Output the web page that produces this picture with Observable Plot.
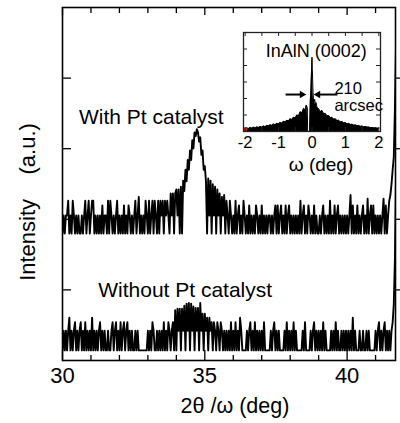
<!DOCTYPE html>
<html><head><meta charset="utf-8">
<script src="https://cdn.jsdelivr.net/npm/d3@7"></script>
<script src="https://cdn.jsdelivr.net/npm/@observablehq/plot@0.6"></script>
<style>
body{margin:0;background:#fff;}
#chart{position:relative;width:400px;height:423px;overflow:hidden;}
#chart svg{position:absolute;}
</style></head><body><div id="chart"></div>
<script>
// ---- main 2θ/ω scan (counts), scan grid 30° + 0.04° steps ----
const scanStart = 30, scanStep = 0.04;
const withPt = [
1,1.8,1,1.8,1.8,2.9,1,1.8,1,2.9,1.8,1,1.8,1,1.8,1,1,1.8,1,1.8,2.9,1,1.8,2.9,1,
1.8,2.9,2.9,1,1.8,1,1.8,1,1.8,1,2.5,1,1.8,1.8,1,2.9,1,2.9,1.8,1,1.8,1,1.8,2.9,1,
1.8,1,1.8,1,2.5,1,1.8,1,2.5,1.8,1,1.8,1,1.8,2.9,1,1.8,3.3,1,1.8,1,1.8,1,2.9,1.8,
1,2.9,1,1.8,2.9,1,2.9,1.8,1,2.9,1,2.9,1.8,2.9,1,2.9,1.8,2.9,1.8,1,3.7,1.8,3.7,1,3.7,
4.2,1.8,4.2,1,4.6,1,5.6,4,8,5.5,11,8,15,11,21,16,27,24,30,27,20,23,13,15,8,
9,5.5,1,6,1.8,5.6,1,5,1.8,4.6,1,4.2,1.8,3.7,1,3.3,1.8,3.5,1,2.9,1.8,1,2.9,1.8,1,
1.8,1,2.9,1,1.8,2.5,1,1.8,1,2.9,1.8,1,1.8,1,2.5,1,1.8,1,1.8,1,2.5,1.8,1,1.8,1,
2.5,1,1.8,1,1.8,1,1.8,1.8,1,1.8,1,1.8,2.5,1,2.5,1,1.8,2.5,1,1.8,1,2.5,1,1.8,2.5,
1,1.8,1,1.8,1,1.8,1,1.8,1,2.9,1,1.8,2.5,1,1.8,1,2.5,1.8,1,1.8,1,2.5,1,1.8,1,
1,1.8,1,1.8,2.5,1,1.8,1,1.8,1,2.9,1,1.8,1,2.5,1,1.8,2.5,1,1.8,1,1.8,1,1.8,1,
1.8,1,1.8,3.5,1,2.5,1,1.8,1,2.5,1,1.8,1,1.8,2.5,1,1.8,1,3.1,1,1.8,2.5,1,2.5,1,
1.8,1,1.8,1,1.8,1,1.8,3.1,1,2.5,1,1.8,2.9,3.5,5,8,12,60,500,3000
];
const withoutPt = [
1,1.9,1,1.9,1,1.9,2.9,1,1.9,1,1.9,2.5,1,1.9,1,1.9,2.5,1,1.9,1,2.5,1,1.9,1,1.9,
1,2.9,1,1.9,1,1.9,1,1.9,2.5,1,1.9,1,1.9,1,1,1.9,1,1,1.9,2.5,1,1.9,2.5,1,1.9,
1,2.5,1,1.9,2.5,1,1.9,2.5,1,1.9,1,1.9,1,1,1.9,1,1.9,1,1,1,1,1,1,1,1,
1.9,1,1.9,1,2.5,1.9,1,1,1.9,1,1.9,1,1.9,1,2.5,1,1.9,1,2.5,1.9,1,1.9,2.5,1,3.7,
1,3.9,1.9,3.9,1,3.9,1.9,4.3,1,4.6,1.9,4.7,1,4.6,1.9,4.2,1,4,1.9,4,1,4.7,1.9,3.3,1,
3.3,1.9,2.9,1,2.9,1.9,2.5,1,2.5,1.9,1,2.5,1.9,1,2.5,1.9,1,1.9,1,1.9,1,1.9,1,2.5,1,
1.9,1,2.5,1,1.9,1,2.9,1.9,1,1,1,1,1.9,1,1.9,2.5,1,1.9,1,2.5,1,1.9,1,1.9,1,
1.9,1,2.5,1,1,1,1,1,1.9,1,1.9,2.5,1,1.9,1,1.9,1,1,1,1,1.9,1,2.5,1,1.9,
1,1.9,1,2.5,1,1.9,1,1,1,1,1,1.9,1,2.5,1,1,1,1,1.9,1,1.9,2.5,1,1.9,1,
1.9,1,1.9,1,2.5,1,1.9,1,1,1,1,1.9,1,1.9,1,2.5,1,1.9,1,1,1.9,1,1.9,1,1.9,
1,1.9,1,1.9,1,2.9,1,1.9,1,1,1,1.9,1,1,1.9,1,1,1.9,1,1.9,1,1,1,1,1,
1.9,1,1.9,2.5,1,1.9,1,1.9,2.5,1,1.9,1,1.9,1,1.9,2.5,4.5,20,300,3000
];
const offsetWith = 63, offsetWithout = 1.39;   // vertical stacking factors (log axis)
const xMajorTicks = [30, 35, 40];
const xMajorLabels = ["30", "35", "40"];
const xMinorTicks = [31, 32, 33, 34, 36, 37, 38, 39, 41];
const yTicks = [10, 100, 1000, 10000];
const curveLabels = ["With Pt catalyst", "Without Pt catalyst"];
const curveLabelX = [33.12, 34.31];
const curveLabelY = [2830, 10];
const xTitle = "2θ /ω (deg)";
const yTitle = "Intensity\u00a0\u00a0\u00a0\u00a0(a.u.)";

// ---- inset: ω rocking curve ----
const insetOmega = [-2,-1.95,-1.9,-1.85,-1.8,-1.75,-1.7,-1.65,-1.6,-1.55,-1.5,-1.45,-1.4,-1.35,-1.3,-1.25,-1.2,-1.15,-1.1,-1.05,-1,-0.95,-0.9,-0.85,-0.8,-0.75,-0.7,-0.65,-0.6,-0.55,-0.5,-0.45,-0.4,-0.35,-0.3,-0.25,-0.2,
 -0.17,-0.14,-0.13,-0.07,-0.05,-0.03,-0.01,0,0.01,0.03,0.05,0.08,0.1,0.12,0.15,
 0.2,0.25,0.3,0.35,0.4,0.45,0.5,0.55,0.6,0.65,0.7,0.75,0.8,0.85,0.9,0.95,1,1.05,1.1,1.15,1.2,1.25,1.3,1.35,1.4,1.45,1.5,1.55,1.6,1.65,1.7,1.75,1.8,1.85,1.9,1.95,2];
const insetIntensity = [0.12,0.22,0.17,0.24,0.2,0.26,0.21,0.28,0.24,0.3,0.26,0.33,0.29,0.37,0.33,0.41,0.37,0.45,0.41,0.5,0.45,0.55,0.5,0.62,0.57,0.68,0.63,0.77,0.72,0.86,0.82,1.0,0.95,1.2,1.12,1.4,1.3,
 1.6,1.45,0,0,1.9,2.6,4.0,4.5,3.8,2.4,1.8,1.95,1.6,1.75,1.45,
 1.38,1.2,1.28,1.08,1.1,0.94,0.97,0.84,0.86,0.74,0.77,0.66,0.68,0.58,0.6,0.52,0.54,0.46,0.49,0.42,0.44,0.38,0.4,0.35,0.36,0.31,0.33,0.28,0.3,0.26,0.27,0.23,0.25,0.21,0.23,0.2,0.2];
const insetXTicks = [-2, -1, 0, 1, 2];
const insetXLabels = ["-2", "-1", "0", "1", "2"];
const insetXMinor = [-2, -1.5, -1, -0.5, 0, 0.5, 1, 1.5, 2];
const insetYTicks = [1, 2, 3, 4, 5];
const insetTitle = "InAlN (0002)";
const insetTitlePos = [0.13, 4.85];
const fwhmText = ["210", "arcsec"];
const fwhmTextX = [0.67, 0.67];
const fwhmTextY = [2.62, 1.59];
const arrowX1 = [-0.79, 0.76], arrowX2 = [-0.30, 0.18], arrowY = 2.24, arrowRotate = [90, -90];
const insetXTitle = "ω (deg)";

const font = "'Liberation Sans', Arial, Helvetica, sans-serif";
const chart = document.getElementById("chart");

const twoTheta = withPt.map((_, i) => +(scanStart + i * scanStep).toFixed(2));
const withData = withPt.map((c, i) => ({x: twoTheta[i], y: c * offsetWith}));
const withoutData = withoutPt.map((c, i) => ({x: twoTheta[i], y: c * offsetWithout}));

const W = 400, H = 423, mL = 62, mR = 5, mT = 7, mB = 63;
const fw = W - mL - mR, fh = H - mT - mB;
const majorFmt = new Map(xMajorTicks.map((v, i) => [v, xMajorLabels[i]]));

const main = Plot.plot({
  width: W, height: H, marginLeft: mL, marginRight: mR, marginTop: mT, marginBottom: mB,
  style: {fontFamily: font, background: "transparent", color: "black", overflow: "visible"},
  x: {domain: [30, 41.7], label: null},
  y: {type: "log", domain: [1, 1e5], axis: null},
  marks: [
    Plot.lineY(withData, {x: "x", y: "y", stroke: "black", strokeWidth: 1.9, clip: true}),
    Plot.lineY(withoutData, {x: "x", y: "y", stroke: "black", strokeWidth: 1.9, clip: true}),
    Plot.frame({stroke: "black", strokeWidth: 1.6}),
    Plot.tickX(xMajorTicks, {insetTop: fh - 10, stroke: "black", strokeWidth: 1.3}),
    Plot.tickX(xMinorTicks, {insetTop: fh - 5, stroke: "black", strokeWidth: 1.3}),
    Plot.tickX(xMajorTicks, {insetBottom: fh - 8, stroke: "black", strokeWidth: 1.3}),
    Plot.tickX(xMinorTicks, {insetBottom: fh - 6, stroke: "black", strokeWidth: 1.3}),
    Plot.tickY(yTicks, {insetRight: fw - 9, stroke: "black", strokeWidth: 1.3}),
    Plot.tickY(yTicks, {insetLeft: fw - 5, dx: 5, stroke: "black", strokeWidth: 1.3}),
    Plot.axisX({ticks: xMajorTicks, tickSize: 0, tickPadding: 7, fontSize: 22, label: null, tickFormat: d => majorFmt.get(d)}),
    Plot.text(curveLabels, {x: (d, i) => curveLabelX[i], y: (d, i) => curveLabelY[i], text: d => d, fontSize: 21, lineAnchor: "middle"}),
    Plot.text([xTitle], {frameAnchor: "bottom", dx: 6, dy: 46, fontSize: 21.5, lineAnchor: "middle"}),
    Plot.text([yTitle], {frameAnchor: "left", rotate: -90, dx: -35, dy: 18, fontSize: 22, textAnchor: "middle", lineAnchor: "middle"})
  ]
});
main.style.left = "0px"; main.style.top = "0px";
chart.appendChild(main);

// inset
const insetData = insetOmega.map((w, i) => ({w, v: insetIntensity[i]}));
const iW = 160, iH = 160, iL = 15, iR = 8, iT = 12, iB = 49;
const ifw = iW - iL - iR, ifh = iH - iT - iB;
const insetFmt = new Map(insetXTicks.map((v, i) => [v, insetXLabels[i]]));
const inset = Plot.plot({
  width: iW, height: iH, marginLeft: iL, marginRight: iR, marginTop: iT, marginBottom: iB,
  style: {fontFamily: font, background: "transparent", color: "black", overflow: "visible"},
  x: {domain: [-2.05, 2.05], label: null},
  y: {domain: [0, 6], axis: null},
  marks: [
    Plot.frame({fill: "white", stroke: "none"}),
    Plot.areaY(insetData, {x: "w", y: "v", fill: "black"}),
    Plot.lineY(insetData, {x: "w", y: "v", stroke: "black", strokeWidth: 1}),
    Plot.dot([insetData[0]], {x: "w", y: "v", r: 2.2, fill: "#e01010", stroke: "none"}),
    Plot.frame({stroke: "#222", strokeWidth: 1.3}),
    Plot.tickX(insetXMinor, {insetTop: ifh - 4, stroke: "#222"}),
    Plot.tickX(insetXMinor, {insetBottom: ifh - 4, stroke: "#222"}),
    Plot.tickY(insetYTicks, {insetRight: ifw - 4, stroke: "#222"}),
    Plot.tickY(insetYTicks, {insetLeft: ifw - 4, stroke: "#222"}),
    Plot.axisX({ticks: insetXTicks, tickSize: 0, tickPadding: 5, fontSize: 16.5, label: null, tickFormat: d => insetFmt.get(d)}),
    Plot.text([insetTitle], {x: insetTitlePos[0], y: insetTitlePos[1], fontSize: 18, lineAnchor: "middle"}),
    Plot.text(fwhmText, {x: (d, i) => fwhmTextX[i], y: (d, i) => fwhmTextY[i], text: d => d, fontSize: 16.5, textAnchor: "start", lineAnchor: "middle"}),
    Plot.link(arrowX1, {x1: d => d, x2: (d, i) => arrowX2[i], y1: arrowY, y2: arrowY, stroke: "black", strokeWidth: 2}),
    Plot.dot(arrowX2, {x: d => d, y: arrowY, symbol: "triangle2", r: 3.6, rotate: (d, i) => arrowRotate[i], fill: "black", stroke: "none"}),
    Plot.text([insetXTitle], {frameAnchor: "bottom", dx: 9, dy: 33, fontSize: 19, lineAnchor: "middle"})
  ]
});
inset.style.left = "228px"; inset.style.top = "20px";
chart.appendChild(inset);
</script></body></html>
